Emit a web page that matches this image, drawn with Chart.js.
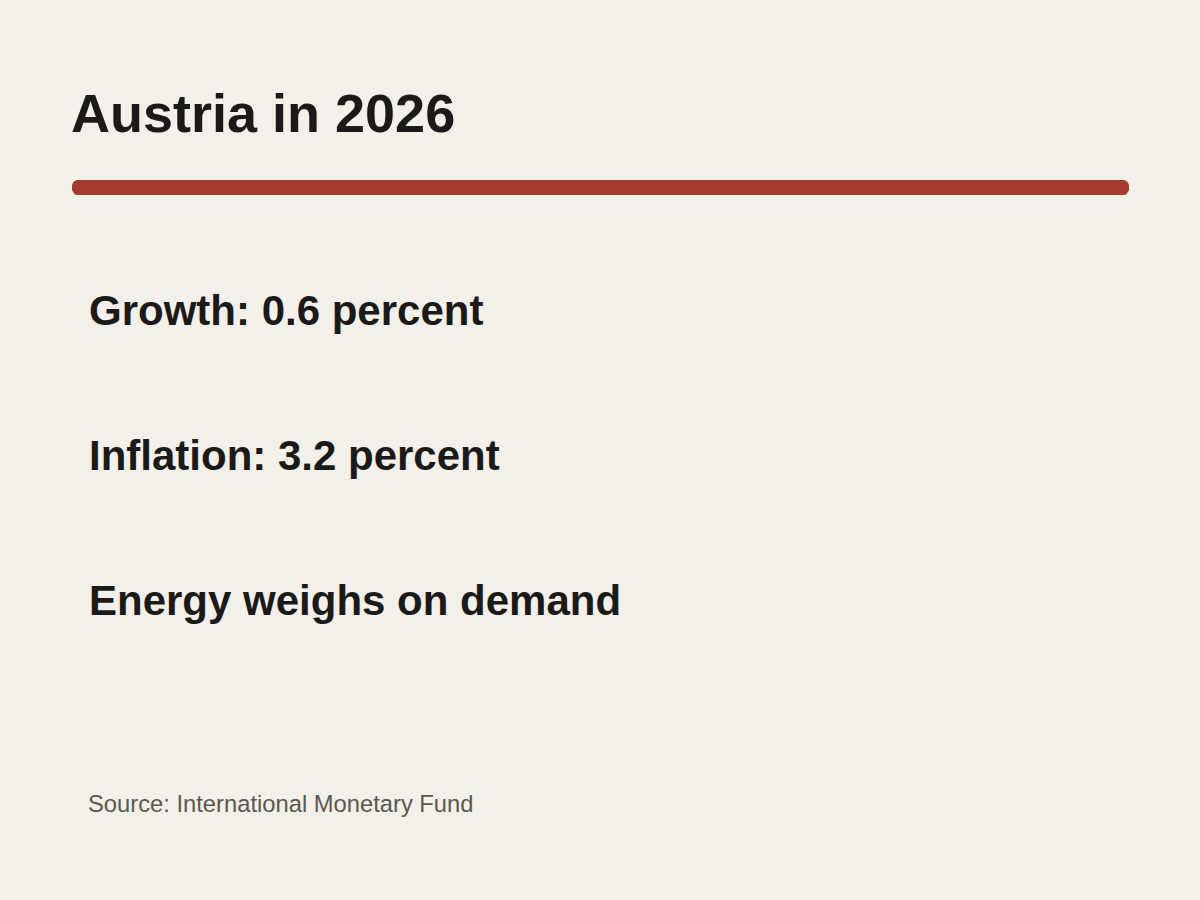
<!DOCTYPE html>
<html>
<head>
<meta charset="utf-8">
<script src="https://cdn.jsdelivr.net/npm/chart.js@4"></script>
<style>
  html, body {
    margin: 0;
    padding: 0;
    width: 1200px;
    height: 900px;
    background: #f3efe9;
    font-family: "Liberation Sans", Arial, sans-serif;
    color: #1b1a18;
    overflow: hidden;
  }
  .abs { position: absolute; line-height: 1; white-space: nowrap; }
  #title { left: 71px; top: 86px; font-size: 54px; font-weight: bold; }
  #rule { position: absolute; left: 72px; top: 180px; width: 1057px; height: 15px; }
  .stat { left: 89px; font-size: 42px; font-weight: bold; }
  #source { left: 88px; top: 791.5px; font-size: 23.75px; color: #5c5850; }
</style>
</head>
<body>
<div id="title" class="abs"></div>
<div id="rule"><canvas id="ruleChart"></canvas></div>
<div id="stats"></div>
<div id="source" class="abs"></div>

<script>
  // Figures shown on the card
  const country = "Austria";
  const year = 2026;
  const statLabels = ["Growth", "Inflation"];
  const statValues = [0.6, 3.2];
  const statUnit = "percent";
  const note = "Energy weighs on demand";
  const source = "International Monetary Fund";

  // The red rule is one full-length bar on a 0..1 scale
  const ruleValues = [1];

  document.getElementById("title").textContent = country + " in " + year;
  document.getElementById("source").textContent = "Source: " + source;

  let lines = [];
  statLabels.forEach((label, i) => {
    lines.push(label + ": " + statValues[i].toFixed(1) + " " + statUnit);
  });
  lines.push(note);

  const stats = document.getElementById("stats");
  lines.forEach((text, i) => {
    const div = document.createElement("div");
    div.className = "abs stat";
    div.style.top = (289.5 + i * 145) + "px";
    div.textContent = text;
    stats.appendChild(div);
  });

  const ctx = document.getElementById("ruleChart").getContext("2d");

  new Chart(ctx, {
    type: "bar",
    data: {
      labels: [""],
      datasets: [
        {
          data: ruleValues,
          backgroundColor: "#a33b2f",
          borderRadius: 8,
          borderSkipped: false,
          barPercentage: 1,
          categoryPercentage: 1,
        },
      ],
    },
    options: {
      indexAxis: "y",
      responsive: true,
      maintainAspectRatio: false,
      animation: false,
      layout: { padding: 0 },
      plugins: {
        legend: { display: false },
        tooltip: { enabled: false },
      },
      scales: {
        x: { display: false, min: 0, max: 1 },
        y: { display: false },
      },
    },
  });
</script>
</body>
</html>
